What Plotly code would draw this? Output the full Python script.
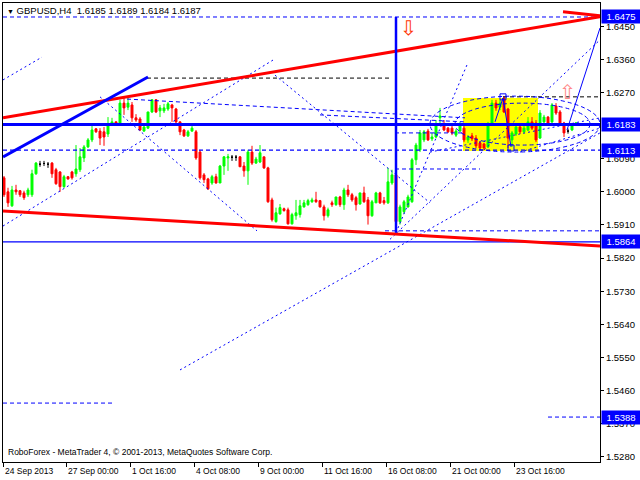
import plotly.graph_objects as go

# ---------------- data (GBPUSD H4) ----------------
opens = [1.6038,1.6000,1.5962,1.6005,1.6003,1.5997,1.5992,1.5992,1.6049,1.6075,
         1.6077,1.6075,1.6078,1.6060,1.6054,1.6014,1.6041,1.6054,1.6049,1.6060,
         1.6092,1.6122,1.6141,1.6171,1.6165,1.6163,1.6157,1.6184,1.6190,1.6187,
         1.6241,1.6230,1.6236,1.6201,1.6198,1.6165,1.6173,1.6217,1.6250,1.6220,
         1.6220,1.6225,1.6236,1.6225,1.6190,1.6168,1.6152,1.6165,1.6163,1.6108,
         1.6046,1.6035,1.6024,1.6041,1.6024,1.6070,1.6092,1.6094,1.6094,1.6095,
         1.6070,1.6057,1.6108,1.6078,1.6081,1.6095,1.6065,1.5978,1.5919,1.5940,
         1.5954,1.5951,1.5913,1.5935,1.5938,1.5959,1.5965,1.5973,1.5978,1.5976,
         1.5959,1.5935,1.5970,1.5965,1.5986,1.5965,1.6005,1.5992,1.5984,1.5967,
         1.5997,1.5978,1.5935,1.5970,1.5997,1.5976,1.5970,1.6024,1.6046,1.5919,
         1.5946,1.5959,1.5973,1.6087,1.6114,1.6141,1.6165,1.6144,1.6149,1.6201,
         1.6184,1.6173,1.6173,1.6154,1.6165,1.6173,1.6141,1.6152,1.6146,1.6133,
         1.6130,1.6122,1.6182,1.6241,1.6230,1.6255,1.6225,1.6141,1.6157,1.6176,
         1.6163,1.6168,1.6190,1.6187,1.6146,1.6190,1.6203,1.6190,1.6233,1.6217,
         1.6187,1.6165,1.6168,1.6185]
highs = [1.6043,1.6011,1.6016,1.6019,1.6005,1.6003,1.6011,1.6060,1.6081,1.6084,
         1.6084,1.6081,1.6081,1.6065,1.6056,1.6046,1.6043,1.6057,1.6127,1.6119,
         1.6127,1.6146,1.6182,1.6173,1.6173,1.6176,1.6203,1.6201,1.6192,1.6250,
         1.6258,1.6258,1.6244,1.6211,1.6203,1.6182,1.6217,1.6252,1.6252,1.6236,
         1.6239,1.6244,1.6239,1.6228,1.6192,1.6171,1.6168,1.6179,1.6168,1.6114,
         1.6051,1.6038,1.6046,1.6049,1.6073,1.6097,1.6103,1.6100,1.6100,1.6097,
         1.6081,1.6114,1.6125,1.6095,1.6127,1.6095,1.6068,1.5984,1.5957,1.5967,
         1.5957,1.5957,1.5943,1.5978,1.5978,1.5978,1.5981,1.5984,1.6000,1.5978,
         1.5965,1.5957,1.5976,1.5986,1.5989,1.6011,1.6019,1.5997,1.5989,1.5997,
         1.6014,1.5986,1.5978,1.6000,1.6000,1.5986,1.6065,1.6060,1.6049,1.5965,
         1.5978,1.5992,1.6092,1.6133,1.6168,1.6168,1.6171,1.6160,1.6195,1.6228,
         1.6195,1.6176,1.6179,1.6171,1.6190,1.6184,1.6154,1.6160,1.6154,1.6138,
         1.6133,1.6190,1.6250,1.6250,1.6250,1.6260,1.6228,1.6165,1.6182,1.6182,
         1.6179,1.6203,1.6203,1.6195,1.6222,1.6209,1.6206,1.6241,1.6241,1.6222,
         1.6190,1.6172,1.6184,1.6189]
lows = [1.5986,1.5959,1.5959,1.5992,1.5986,1.5978,1.5986,1.5986,1.6046,1.6068,
        1.6070,1.6065,1.6038,1.6019,1.6000,1.6011,1.6033,1.6033,1.6041,1.6054,
        1.6081,1.6119,1.6135,1.6160,1.6127,1.6125,1.6149,1.6179,1.6179,1.6182,
        1.6209,1.6222,1.6190,1.6190,1.6165,1.6163,1.6171,1.6214,1.6214,1.6203,
        1.6214,1.6220,1.6190,1.6187,1.6154,1.6149,1.6149,1.6163,1.6087,1.6033,
        1.6024,1.6005,1.6019,1.6022,1.6024,1.6046,1.6057,1.6084,1.6084,1.6068,
        1.6041,1.6019,1.6073,1.6076,1.6078,1.6062,1.5970,1.5919,1.5916,1.5938,
        1.5946,1.5911,1.5911,1.5924,1.5930,1.5957,1.5962,1.5970,1.5970,1.5957,
        1.5922,1.5930,1.5959,1.5962,1.5959,1.5951,1.5986,1.5973,1.5949,1.5965,
        1.5970,1.5911,1.5932,1.5970,1.5967,1.5965,1.5967,1.6019,1.5889,1.5911,
        1.5940,1.5957,1.5970,1.6073,1.6108,1.6135,1.6138,1.6138,1.6146,1.6182,
        1.6165,1.6160,1.6154,1.6149,1.6163,1.6135,1.6133,1.6138,1.6119,1.6114,
        1.6114,1.6119,1.6179,1.6220,1.6222,1.6214,1.6119,1.6122,1.6152,1.6157,
        1.6160,1.6165,1.6168,1.6135,1.6144,1.6187,1.6184,1.6187,1.6209,1.6184,
        1.6149,1.6158,1.6165,1.6184]
closes = [1.5992,1.5970,1.6005,1.6000,1.5992,1.5984,1.6005,1.6049,1.6078,1.6075,
          1.6077,1.6075,1.6049,1.6022,1.6014,1.6041,1.6035,1.6038,1.6062,1.6095,
          1.6122,1.6141,1.6168,1.6163,1.6146,1.6149,1.6182,1.6190,1.6184,1.6241,
          1.6228,1.6241,1.6201,1.6195,1.6168,1.6176,1.6217,1.6250,1.6217,1.6228,
          1.6228,1.6239,1.6228,1.6190,1.6163,1.6152,1.6163,1.6173,1.6092,1.6038,
          1.6033,1.6008,1.6041,1.6024,1.6070,1.6095,1.6095,1.6094,1.6094,1.6068,
          1.6057,1.6108,1.6078,1.6089,1.6106,1.6065,1.5973,1.5924,1.5943,1.5957,
          1.5949,1.5913,1.5938,1.5943,1.5962,1.5970,1.5976,1.5978,1.5973,1.5959,
          1.5935,1.5951,1.5965,1.5986,1.5965,1.6005,1.5992,1.5978,1.5965,1.5997,
          1.5973,1.5935,1.5973,1.5997,1.5970,1.5970,1.6027,1.6046,1.5919,1.5959,
          1.5973,1.5986,1.6087,1.6127,1.6160,1.6163,1.6141,1.6149,1.6184,1.6206,
          1.6168,1.6163,1.6160,1.6165,1.6184,1.6141,1.6149,1.6144,1.6125,1.6119,
          1.6119,1.6182,1.6241,1.6228,1.6241,1.6217,1.6146,1.6160,1.6176,1.6163,
          1.6173,1.6190,1.6173,1.6141,1.6214,1.6203,1.6187,1.6236,1.6214,1.6187,
          1.6160,1.6165,1.6182,1.6187]

date_labels = ["24 Sep 2013", "27 Sep 00:00", "1 Oct 16:00", "4 Oct 08:00",
               "9 Oct 00:00", "11 Oct 16:00", "16 Oct 08:00", "21 Oct 00:00",
               "23 Oct 16:00"]
date_label_bars = [0, 16, 32, 48, 64, 80, 96, 112, 128]

price_tick_values = [1.5280, 1.5370, 1.5460, 1.5550, 1.5640, 1.5730, 1.5820,
                     1.5910, 1.6000, 1.6090, 1.6270, 1.6360, 1.6450]
marked_levels = [1.6475, 1.6183, 1.6113, 1.5864, 1.5388]

header = "GBPUSD,H4\u00a0\u00a01.6185 1.6189 1.6184 1.6187"
footer = "RoboForex - MetaTrader 4, \u00a9 2001-2013, MetaQuotes Software Corp."

# analysis objects: (bar0, price0, bar1, price1)
red_trends = [(-0.25, 1.6201, 149, 1.6476), (139.75, 1.6489, 149, 1.6478),
              (-0.25, 1.5948, 149, 1.5853)]
blue_thick_trends = [(-0.25, 1.6095, 36, 1.6312)]
blue_thin_trends = [(140.75, 1.6168, 149, 1.6445)]
zigzag_bars = [122.75, 124.75, 126.75]
zigzag_prices = [1.6190, 1.6255, 1.6122]
vertical_bar = 98
vertical_span = (1.5889, 1.6475)
fan_lines = [(-0.25, 1.6304, 9.5, 1.6366), (-0.25, 1.5907, 67.25, 1.6358),
             (24, 1.6258, 63.25, 1.5894), (67.75, 1.6317, 106.5, 1.5970),
             (44, 1.5516, 149, 1.6160), (98, 1.5889, 115.75, 1.6345),
             (96.5, 1.5871, 149, 1.6413), (106.5, 1.6108, 149, 1.6201),
             (129, 1.6108, 149, 1.6173)]
dash_lines = [(30.75, 1.6252, 115.25, 1.6201), (79, 1.6209, 115.25, 1.6190),
              (97.75, 1.6160, 114.75, 1.6160)]
# horizontal partial levels: (bar0, bar1, price, color)
partial_levels = [(136, 149, 1.5388, "#0000FF"), (-0.25, 27.75, 1.5426, "#0000FF"),
                  (97.75, 119, 1.6062, "#0000FF"), (95.25, 149, 1.5894, "#0000FF"),
                  (35.75, 96.5, 1.6309, "#000000"), (124.75, 149, 1.6258, "#000000")]
ellipses = [(106.5, 1.6260, 149, 1.6108), (112.75, 1.6241, 146.5, 1.6127)]
box_zone = (114.75, 1.6255, 133.5, 1.6111)
square_marks_bars = [124.75, 126.75]
square_marks_prices = [1.6258, 1.6119]
arrow_down = (101, 1.6445)
arrow_up = (140.75, 1.6271)

# ---------------- figure ----------------
BLUE = "#0000FF"
RED = "#FF0000"
GREEN = "#00FF00"
FONT = "Liberation Sans"
X_MIN, X_MAX = -0.25, 149

n = len(opens)
bars = list(range(n))
groups = {
    "up": ([i for i in bars if closes[i] > opens[i]], GREEN),
    "down": ([i for i in bars if closes[i] < opens[i]], RED),
    "doji": ([i for i in bars if closes[i] == opens[i]], "#000000"),
}

fig = go.Figure()
for name, (idx, col) in groups.items():
    fig.add_trace(go.Candlestick(
        x=[bars[i] for i in idx],
        open=[opens[i] for i in idx], high=[highs[i] for i in idx],
        low=[lows[i] for i in idx], close=[closes[i] for i in idx],
        increasing=dict(line=dict(color=col, width=1), fillcolor=col),
        decreasing=dict(line=dict(color=col, width=1), fillcolor=col),
        whiskerwidth=0, showlegend=False, hoverinfo="skip", name=name))

shapes = []
# yellow zone behind candles
shapes.append(dict(type="rect", xref="x", yref="y", x0=box_zone[0], y0=box_zone[1],
                   x1=box_zone[2], y1=box_zone[3], fillcolor="#FFFF00",
                   line=dict(width=0), layer="below"))


def seg(x0, y0, x1, y1, color, width=1, dash="solid"):
    shapes.append(dict(type="line", xref="x", yref="y", x0=x0, y0=y0, x1=x1, y1=y1,
                       line=dict(color=color, width=width, dash=dash), layer="above"))


for (a, b, c, d) in fan_lines:
    seg(a, b, c, d, BLUE, 1, "2px,3px")
for (a, b, c, d) in dash_lines:
    seg(a, b, c, d, BLUE, 1, "4px,3px")
for (a, b, p, col) in partial_levels:
    seg(a, p, b, p, col, 1, "4px,3px")
for (a, b, c, d) in ellipses:
    shapes.append(dict(type="circle", xref="x", yref="y", x0=a, y0=b, x1=c, y1=d,
                       line=dict(color=BLUE, width=1, dash="4px,3px"), layer="above"))

# full-width levels
level_styles = {1.6475: ("4px,3px", 1), 1.6183: ("solid", 3),
                1.6113: ("4px,3px", 1.2), 1.5864: ("solid", 1.2)}
for p, (dash, w) in level_styles.items():
    shapes.append(dict(type="line", xref="paper", yref="y", x0=0, x1=1, y0=p, y1=p,
                       line=dict(color=BLUE, width=w, dash=dash), layer="above"))

for (a, b, c, d) in red_trends:
    seg(a, b, c, d, RED, 3)
for (a, b, c, d) in blue_thick_trends:
    seg(a, b, c, d, BLUE, 3)
for (a, b, c, d) in blue_thin_trends:
    seg(a, b, c, d, BLUE, 1)
seg(vertical_bar, vertical_span[0], vertical_bar, vertical_span[1], BLUE, 2.5)

fig.add_trace(go.Scatter(x=zigzag_bars, y=zigzag_prices, mode="lines",
                         line=dict(color=BLUE, width=1), showlegend=False, hoverinfo="skip"))
fig.add_trace(go.Scatter(x=square_marks_bars, y=square_marks_prices, mode="markers",
                         marker=dict(symbol="square-open", size=6, color=BLUE,
                                     line=dict(width=1)),
                         showlegend=False, hoverinfo="skip"))

annotations = []
annotations.append(dict(text="\u21e9", x=arrow_down[0], y=arrow_down[1], xref="x", yref="y",
                        showarrow=False, font=dict(family="DejaVu Sans", size=20, color="#FF3300")))
annotations.append(dict(text="\u21e7", x=arrow_up[0], y=arrow_up[1], xref="x", yref="y",
                        showarrow=False, font=dict(family="DejaVu Sans", size=20, color="#FF8888")))

# header & footer
annotations.append(dict(text="<span style='font-size:7px'>\u25bc</span> " + header,
                        xref="paper", yref="paper", x=0, y=1, xanchor="left", yanchor="top",
                        xshift=2, yshift=0, showarrow=False,
                        font=dict(family=FONT, size=9.5, color="#000000")))
annotations.append(dict(text=footer, xref="paper", yref="paper", x=0, y=0,
                        xanchor="left", yanchor="bottom", xshift=3, yshift=3,
                        showarrow=False, font=dict(family=FONT, size=8.5, color="#000000")))

# date labels (left aligned at their ticks)
for b, lab in zip(date_label_bars, date_labels):
    annotations.append(dict(text=lab, x=max(b - 0.5, X_MIN), xref="x", y=0, yref="paper",
                            xanchor="left", yanchor="top", yshift=-2, xshift=0,
                            showarrow=False,
                            font=dict(family=FONT, size=8.5, color="#000000")))

# price boxes on the right axis
for p in marked_levels:
    annotations.append(dict(text=f"{p:.4f}", x=1, xref="paper", y=p, yref="y",
                            xanchor="left", yanchor="middle", xshift=1, showarrow=False,
                            bgcolor=BLUE, borderpad=0, width=38, height=13,
                            font=dict(family=FONT, size=9.5, color="#FFFFFF")))

fig.update_layout(
    width=640, height=480,
    margin=dict(l=3, r=40, t=3, b=18),
    paper_bgcolor="white", plot_bgcolor="white",
    shapes=shapes, annotations=annotations,
    showlegend=False,
    xaxis=dict(range=[X_MIN, X_MAX], rangeslider=dict(visible=False), showgrid=False,
               zeroline=False, showline=True, linecolor="black", linewidth=1, mirror=True,
               tickvals=[max(b - 0.5, X_MIN) for b in date_label_bars], ticks="outside",
               ticklen=4, tickcolor="black", showticklabels=False),
    yaxis=dict(range=[1.52659, 1.65130], side="right", showgrid=False, zeroline=False,
               showline=True, linecolor="black", linewidth=1, mirror=True,
               tickvals=price_tick_values, tickformat=".4f", ticks="outside", ticklen=3,
               tickcolor="black", tickfont=dict(family=FONT, size=9.5, color="black")),
)

fig.write_html("out.html", config={"displayModeBar": False},
               post_script="document.body.style.margin='0';document.body.style.overflow='hidden';")
